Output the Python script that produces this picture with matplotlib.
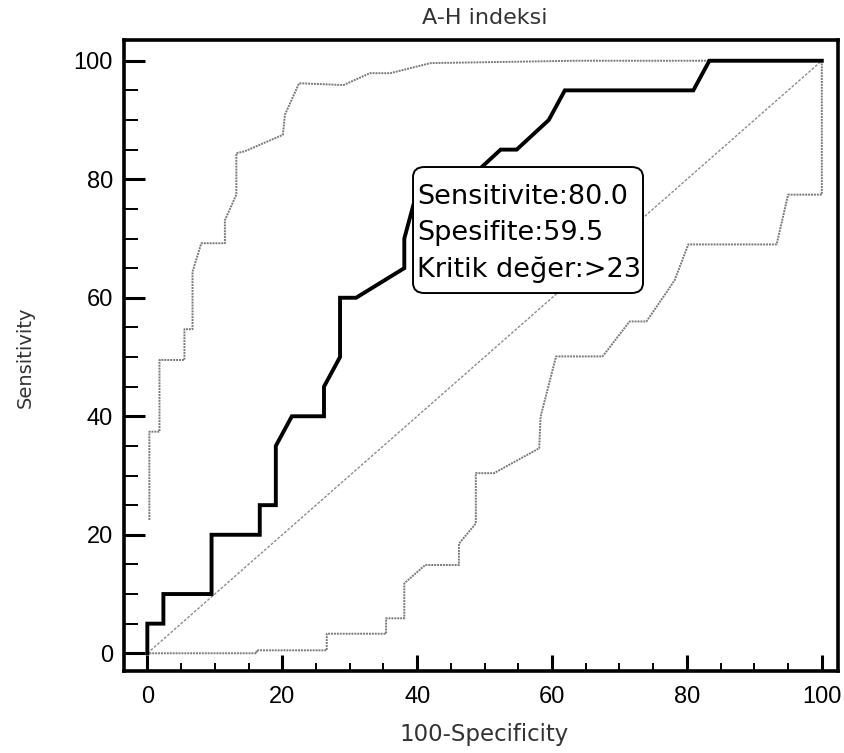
import matplotlib
matplotlib.use("Agg")
import matplotlib.pyplot as plt
from matplotlib.ticker import MultipleLocator
from matplotlib.patches import FancyBboxPatch

roc_x = [0, 0, 2.38, 2.38, 9.52, 9.52, 16.67, 16.67, 19.05, 19.05, 21.43, 26.19,
         26.19, 28.57, 28.57, 30.95, 38.1, 38.1, 40.48, 47.62, 52.38, 54.76,
         59.52, 61.9, 80.95, 83.33, 100]
roc_y = [0, 5, 5, 10, 10, 20, 20, 25, 25, 35, 40, 40,
         45, 50, 60, 60, 65, 70, 80, 80, 85, 85,
         90, 95, 95, 100, 100]

# 95% confidence bounds
upper_x = [0.3, 0.3, 1.8, 1.8, 5.5, 5.5, 6.7, 6.7, 8.0, 11.5, 11.5, 13.2, 13.2,
           14.4, 20.1, 20.4, 22.5, 29.1, 33.0, 36.0, 42.0, 63.6, 100]
upper_y = [22.5, 37.4, 37.4, 49.5, 49.5, 54.7, 54.7, 64.4, 69.2, 69.2, 73.1, 77.4, 84.4,
           84.7, 87.5, 90.9, 96.2, 95.9, 97.9, 97.9, 99.6, 100, 100]

lower_x = [0.3, 16.2, 16.2, 26.6, 26.6, 35.4, 35.4, 38.1, 38.1, 41.2, 46.2, 46.2,
           48.7, 48.7, 51.4, 58.1, 58.3, 60.6, 67.5, 71.5, 74.0, 76.9, 78.2, 80.2,
           93.3, 95.0, 100, 100]
lower_y = [0, 0, 0.5, 0.5, 3.3, 3.3, 5.9, 5.9, 11.8, 14.9, 14.9, 18.5,
           21.9, 30.4, 30.4, 34.6, 39.9, 50.1, 50.1, 56.0, 56.0, 60.8, 63.0, 69.0,
           69.0, 77.4, 77.4, 100]

diag = [0, 100]

box_lines = ["Sensitivite:80.0", "Spesifite:59.5", "Kritik değer:>23"]

fig = plt.figure(figsize=(8.44, 7.53), dpi=100)
ax = fig.add_axes([124 / 844, 1 - 671 / 753, 714 / 844, 631 / 753])

ax.plot(diag, diag, color="#8c8c8c", lw=1.0, ls=(0, (2, 1.2)), zorder=2)
ax.plot(upper_x, upper_y, color="#7a7a7a", lw=1.4, ls=(0, (1, 0.5)), zorder=2)
ax.plot(lower_x, lower_y, color="#7a7a7a", lw=1.4, ls=(0, (1, 0.5)), zorder=2)
ax.plot(roc_x, roc_y, color="black", lw=2.8, solid_joinstyle="miter", zorder=3)

# label box (placed in axes fraction)
box = FancyBboxPatch((0.4048, 0.599), 0.3221, 0.1997,
                     boxstyle="round,pad=0,rounding_size=0.016",
                     transform=ax.transAxes, fc="white", ec="black", lw=1.4, zorder=4)
ax.add_patch(box)
ax.text(40.0, 70.9, "\n".join(box_lines), ha="left", va="center",
        fontsize=19.5, family="DejaVu Sans", linespacing=1.5, zorder=5)

ax.set_xlim(-3.46, 102.4)
ax.set_ylim(-2.99, 103.5)

ax.xaxis.set_major_locator(MultipleLocator(20))
ax.xaxis.set_minor_locator(MultipleLocator(5))
ax.yaxis.set_major_locator(MultipleLocator(20))
ax.yaxis.set_minor_locator(MultipleLocator(5))

ax.tick_params(axis="both", which="both", direction="in", top=False, right=False,
               labelsize=17)
ax.tick_params(axis="x", which="major", length=11.5, width=2.2, pad=11)
ax.tick_params(axis="x", which="minor", length=6, width=1.4)
ax.tick_params(axis="y", which="major", length=15, width=2.2, pad=8)
ax.tick_params(axis="y", which="minor", length=10, width=1.4)
for lab in ax.get_xticklabels() + ax.get_yticklabels():
    lab.set_family("Liberation Sans")

for sp in ax.spines.values():
    sp.set_linewidth(2.6)

fig.text(485 / 844, 1 - 18 / 753, "A-H indeksi", ha="center", va="center",
         fontsize=16, color="#333333")
fig.text(484 / 844, 1 - 735 / 753, "100-Specificity", ha="center", va="center",
         fontsize=16.5, color="#333333")
fig.text(25 / 844, 1 - 357 / 753, "Sensitivity", ha="center", va="center",
         rotation=90, fontsize=14, color="#333333")

fig.savefig("out.png", dpi=100)
